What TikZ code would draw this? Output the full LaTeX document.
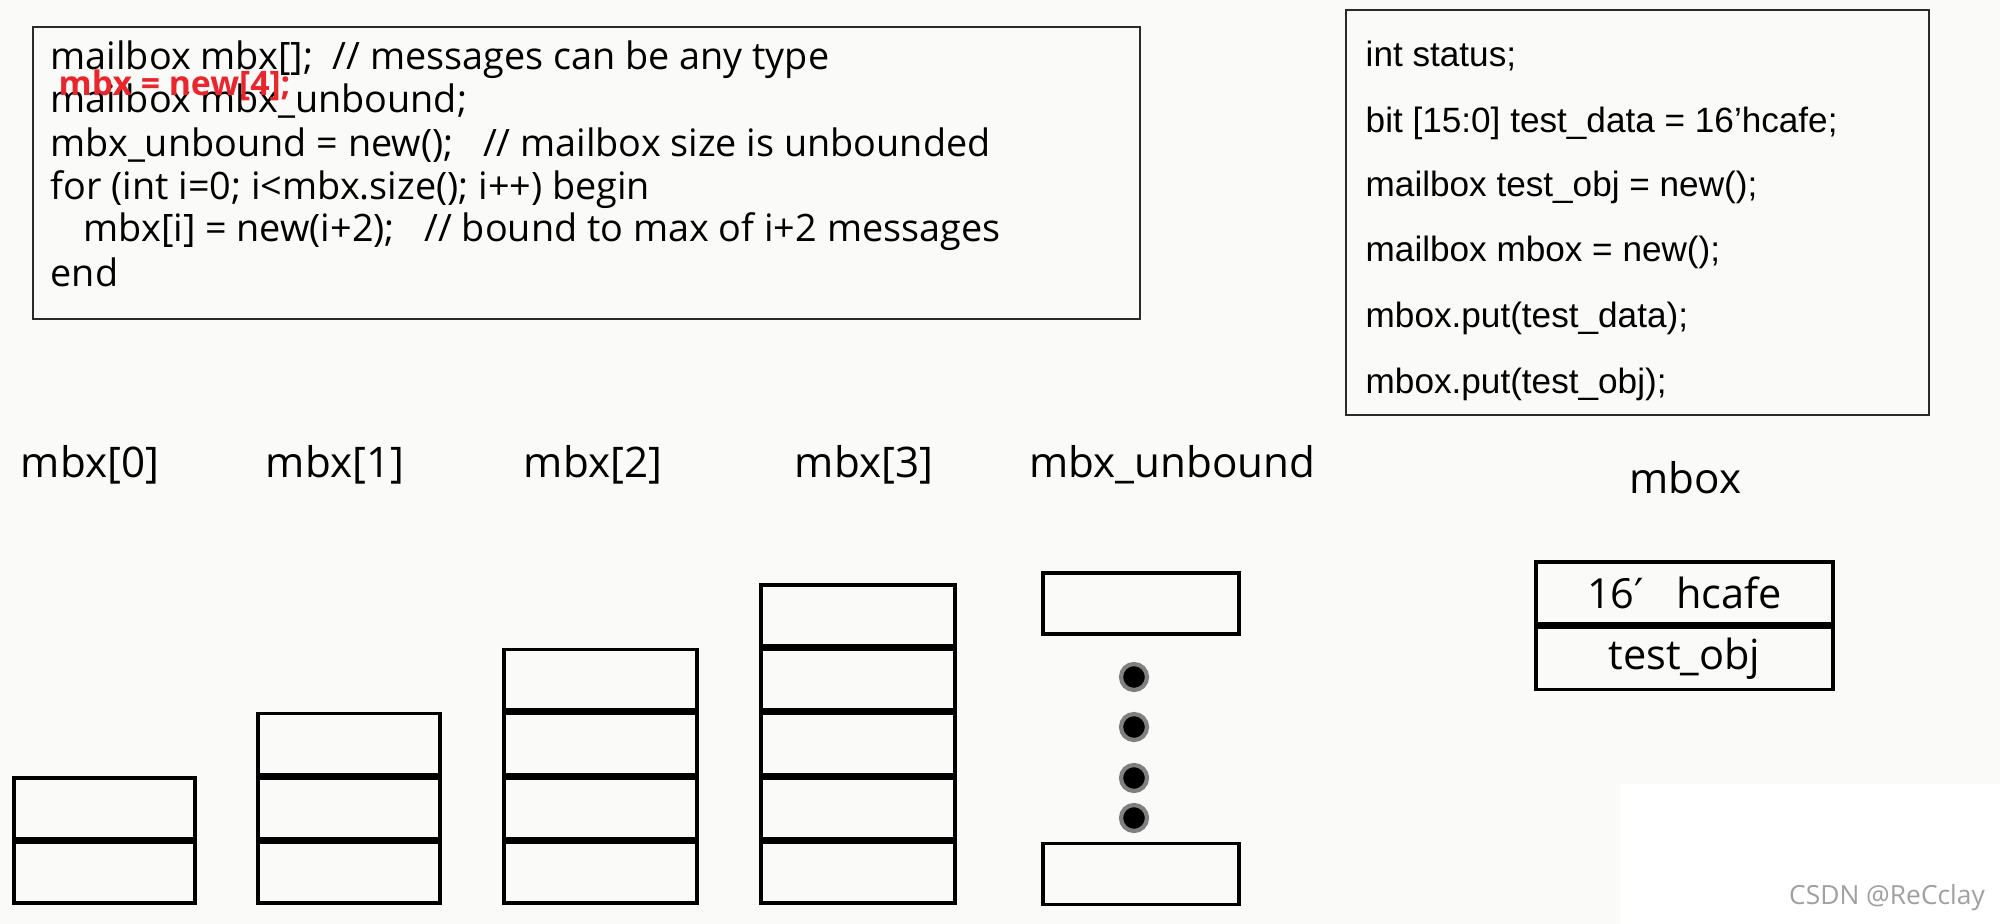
\documentclass[tikz,border=0pt]{standalone}
\usepackage{fontspec}
\setmainfont{Open Sans}
\newfontfamily\arialfont{Liberation Sans}
\newfontfamily\primefont{DejaVu Sans}
\usetikzlibrary{positioning}
\definecolor{paper}{HTML}{FAFAF8}
\definecolor{frame}{HTML}{2A2A2A}
\definecolor{codered}{HTML}{E8262B}
\definecolor{wmgray}{HTML}{A0A0A0}

\begin{document}
\begin{tikzpicture}[
  cell/.style={draw=black, line width=1pt, minimum height=0.608cm, inner sep=0pt},
  codebox/.style={draw=frame, line width=0.7pt, inner sep=0pt},
  codeline/.style={anchor=base west, inner sep=0pt, font=\fontsize{10.75}{12}\selectfont},
  rline/.style={anchor=base west, inner sep=0pt, font=\arialfont\fontsize{10}{12}\selectfont},
  boxlabel/.style={anchor=base, inner sep=0pt, font=\fontsize{12}{14}\selectfont},
  celltext/.style={font=\fontsize{11.8}{14}\selectfont},
  dot/.style={circle, fill=black, draw=gray, line width=1.2pt, minimum size=0.26cm, inner sep=0pt},
]

% Canvas
\useasboundingbox (0,0) rectangle (20,-9.24);
\fill[paper] (0,0) rectangle (20,-9.24);
\fill[white] (16.2,-7.84) rectangle (20,-9.24);

% === Code on the left ===
\node[codebox, minimum width=11.07cm, minimum height=2.92cm] (codeL) at (5.865,-1.73) {};
\node[codeline] (c1) at (0.50,-0.70) {mailbox mbx[];\ \ // messages can be any type};
\node[codeline] (c2) at (0.50,-1.13) {mailbox mbx\_unbound;};
\node[codeline] (c3) at (0.50,-1.57) {mbx\_unbound = new();\ \ \ // mailbox size is unbounded};
\node[codeline] (c4) at (0.50,-2.00) {for (int i=0; i<mbx.size(); i++) begin};
\node[codeline] (c5) at (0.83,-2.42) {mbx[i] = new(i+2);\ \ \ // bound to max of i+2 messages};
\node[codeline] (c6) at (0.50,-2.87) {end};
\node[codeline, text=codered, font=\bfseries\fontsize{9.6}{11}\selectfont] (cnew) at (0.58,-0.96) {mbx = new[4];};

% === Code on the right ===
\node[codebox, minimum width=5.83cm, minimum height=4.05cm] (codeR) at (16.375,-2.125) {};
\node[rline] (r1) at (13.65,-0.67) {int status;};
\node[rline] (r2) at (13.65,-1.33) {bit [15:0] test\_data = 16’hcafe;};
\node[rline] (r3) at (13.65,-1.97) {mailbox test\_obj = new();};
\node[rline] (r4) at (13.65,-2.62) {mailbox mbox = new();};
\node[rline] (r5) at (13.65,-3.28) {mbox.put(test\_data);};
\node[rline] (r6) at (13.65,-3.93) {mbox.put(test\_obj);};

% === Labels ===
\node[boxlabel] (l0) at (0.90,-4.77) {mbx[0]};
\node[boxlabel] (l1) at (3.35,-4.77) {mbx[1]};
\node[boxlabel] (l2) at (5.93,-4.77) {mbx[2]};
\node[boxlabel] (l3) at (8.64,-4.77) {mbx[3]};
\node[boxlabel] (lu) at (11.725,-4.77) {mbx\_unbound};
\node[boxlabel] (lm) at (16.855,-4.93) {mbox};

% === mbx[0] ===
\node[cell, minimum width=1.81cm] (m0a) at (1.045,-8.726) {};
\node[cell, minimum width=1.81cm, above=0pt of m0a] (m0b) {};

% === mbx[1] ===
\node[cell, minimum width=1.82cm] (m1a) at (3.49,-8.726) {};
\node[cell, minimum width=1.82cm, above=0pt of m1a] (m1b) {};
\node[cell, minimum width=1.82cm, above=0pt of m1b] (m1c) {};

% === mbx[2] ===
\node[cell, minimum width=1.93cm] (m2a) at (6.005,-8.726) {};
\node[cell, minimum width=1.93cm, above=0pt of m2a] (m2b) {};
\node[cell, minimum width=1.93cm, above=0pt of m2b] (m2c) {};
\node[cell, minimum width=1.93cm, above=0pt of m2c] (m2d) {};

% === mbx[3] ===
\node[cell, minimum width=1.94cm] (m3a) at (8.58,-8.726) {};
\node[cell, minimum width=1.94cm, above=0pt of m3a] (m3b) {};
\node[cell, minimum width=1.94cm, above=0pt of m3b] (m3c) {};
\node[cell, minimum width=1.94cm, above=0pt of m3c] (m3d) {};
\node[cell, minimum width=1.94cm, above=0pt of m3d] (m3e) {};

% === mbx_unbound ===
\node[cell, minimum width=1.96cm] (ubtop) at (11.41,-6.035) {};
\node[cell, minimum width=1.96cm] (ubbot) at (11.41,-8.74) {};
\node[dot] (d1) at (11.34,-6.77) {};
\node[dot] (d2) at (11.34,-7.27) {};
\node[dot] (d3) at (11.34,-7.78) {};
\node[dot] (d4) at (11.34,-8.18) {};

% === mbox ===
\node[cell, celltext, minimum width=2.97cm, minimum height=0.62cm] (mb1) at (16.845,-5.93) {16{\primefont ′}\ \ \ hcafe};
\node[cell, celltext, minimum width=2.97cm, minimum height=0.62cm, below=0pt of mb1] (mb2) {test\_obj};

% Watermark
\node[text=wmgray, font=\fontsize{7.5}{9}\selectfont, inner sep=0pt] (wm) at (18.87,-8.98) {CSDN @ReCclay};

\end{tikzpicture}
\end{document}
